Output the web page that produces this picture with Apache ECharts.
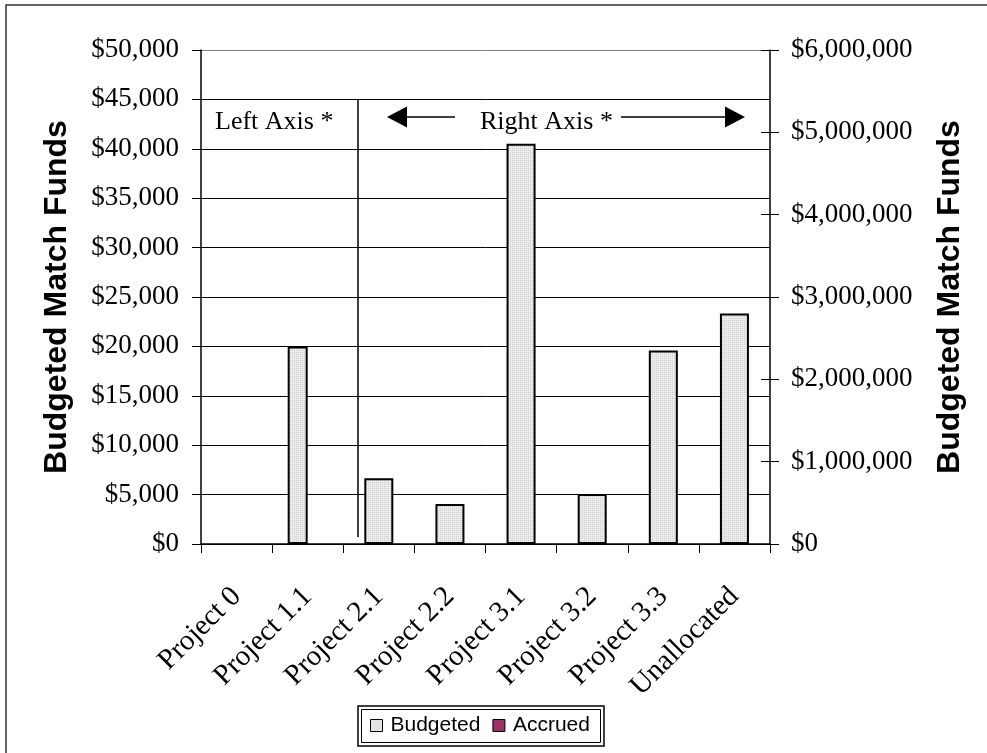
<!DOCTYPE html>
<html>
<head>
<meta charset="utf-8">
<script src="https://cdn.jsdelivr.net/npm/echarts@6/dist/echarts.min.js"></script>
<style>
html,body{margin:0;padding:0;background:#fff;}
#chart{width:987px;height:753px;}
</style>
</head>
<body>
<div id="chart"></div>
<script>
// ---- data ----
var categories = ['Project 0','Project 1.1','Project 2.1','Project 2.2','Project 3.1','Project 3.2','Project 3.3','Unallocated'];
// values on the left axis (Project 0, Project 1.1)
var budgetedLeft = [0, 20000, null, null, null, null, null, null];
var accruedLeft  = [0, 0, null, null, null, null, null, null];
// values on the right axis (Project 2.1 onward)
var budgetedRight = [null, null, 800000, 486000, 4860000, 607000, 2350000, 2800000];
var leftTicks  = [0, 5000, 10000, 15000, 20000, 25000, 30000, 35000, 40000, 45000, 50000];
var rightTicks = [0, 1000000, 2000000, 3000000, 4000000, 5000000, 6000000];
var seriesNames = ['Budgeted', 'Accrued'];
var axisTitle = 'Budgeted Match Funds';

// ---- pattern fill ----
function makePattern(){
  var c = document.createElement('canvas');
  c.width = 2; c.height = 2;
  var g = c.getContext('2d');
  g.fillStyle = '#ececec'; g.fillRect(0,0,2,2);
  g.fillStyle = '#cdcdcd'; g.fillRect(0,0,1,1);
  return {image: c, repeat: 'repeat'};
}
var pattern = makePattern();

var serif = '"Liberation Serif","Times New Roman",serif';
var sans = '"Liberation Sans",Arial,sans-serif';
function money(v){ return '$' + Number(v).toLocaleString('en-US'); }
// zero-height bars draw no outline
function hideZero(arr){
  return arr.map(function(v){ return v === 0 ? {value: 0, itemStyle: {borderWidth: 0}} : v; });
}

var chart = echarts.init(document.getElementById('chart'), null, {renderer:'canvas'});

var gridColors = leftTicks.map(function(v,i){ return i === leftTicks.length-1 ? '#808080' : '#000'; });

var option = {
  animation: false,
  backgroundColor: '#fff',
  grid: {left: 201, right: 217, top: 50, bottom: 209, outerBoundsMode: 'none', containLabel: false},
  legend: {
    data: [
      {name: seriesNames[0], itemStyle: {color: pattern, borderColor: '#000', borderWidth: 1}},
      {name: seriesNames[1], itemStyle: {color: '#993366', borderColor: '#000', borderWidth: 1}}
    ],
    left: 370, top: 715, padding: 0,
    itemWidth: 12, itemHeight: 12, itemGap: 12, icon: 'rect',
    textStyle: {fontFamily: sans, fontSize: 21, color: '#000', padding: [0,0,0,3]},
    selectedMode: false
  },
  xAxis: [
    {
      type: 'category', data: categories, position: 'bottom',
      axisLine: {show: true, lineStyle: {color: '#000', width: 1.5}},
      axisTick: {show: true, length: 9, alignWithLabel: false, lineStyle: {color: '#000', width: 1}},
      axisLabel: {rotate: 45, margin: 48, interval: 0, fontFamily: serif, fontSize: 29, color: '#000'},
      splitLine: {show: false}
    },
    {
      type: 'category', data: categories, show: false
    }
  ],
  yAxis: [
    {
      type: 'value', position: 'left', min: leftTicks[0], max: leftTicks[leftTicks.length-1], interval: leftTicks[1]-leftTicks[0],
      axisLine: {show: true, lineStyle: {color: '#000', width: 1.5}},
      axisTick: {show: true, inside: false, length: 9, lineStyle: {color: '#000'}},
      axisLabel: {formatter: money, margin: 22, fontFamily: serif, fontSize: 27, color: '#000'},
      splitLine: {show: true, lineStyle: {color: gridColors, width: 1}}
    },
    {
      type: 'value', position: 'right', min: rightTicks[0], max: rightTicks[rightTicks.length-1], interval: rightTicks[1]-rightTicks[0],
      axisLine: {show: true, lineStyle: {color: '#000', width: 1.5}},
      axisTick: {show: true, inside: false, length: 9, lineStyle: {color: '#000'}},
      axisLabel: {formatter: money, margin: 21, fontFamily: serif, fontSize: 27, color: '#000'},
      splitLine: {show: false}
    },
    {
      type: 'value', position: 'right', min: rightTicks[0], max: rightTicks[rightTicks.length-1], interval: rightTicks[1]-rightTicks[0],
      axisLine: {show: false},
      axisTick: {show: true, inside: true, length: 9, lineStyle: {color: '#000'}},
      axisLabel: {show: false},
      splitLine: {show: false}
    }
  ],
  series: [
    {
      name: seriesNames[0], type: 'bar', xAxisIndex: 0, yAxisIndex: 0, data: hideZero(budgetedLeft),
      barWidth: 20, barGap: '0%',
      itemStyle: {color: pattern, borderColor: '#000', borderWidth: 2}
    },
    {
      name: seriesNames[1], type: 'bar', xAxisIndex: 0, yAxisIndex: 0, data: hideZero(accruedLeft),
      barWidth: 20, barGap: '0%',
      itemStyle: {color: '#993366', borderColor: '#000', borderWidth: 2}
    },
    {
      name: seriesNames[0], type: 'bar', xAxisIndex: 1, yAxisIndex: 1, data: budgetedRight,
      barWidth: 29,
      itemStyle: {color: pattern, borderColor: '#000', borderWidth: 2}
    }
  ],
  graphic: [
    // outer chart frame
    {type: 'rect', shape: {x: 6, y: 5, width: 990, height: 760}, style: {fill: 'none', stroke: '#333', lineWidth: 1.5}, silent: true},
    // axis titles
    {type: 'text', x: 57, y: 297, rotation: Math.PI/2,
      style: {text: axisTitle, fontFamily: sans, fontWeight: 'bold', fontSize: 32, fill: '#000', align: 'center', verticalAlign: 'middle'}},
    {type: 'text', x: 950, y: 297, rotation: Math.PI/2,
      style: {text: axisTitle, fontFamily: sans, fontWeight: 'bold', fontSize: 32, fill: '#000', align: 'center', verticalAlign: 'middle'}},
    // annotations
    {type: 'text', x: 215, y: 122, style: {text: 'Left Axis *', fontFamily: serif, fontSize: 26, fill: '#000', align: 'left', verticalAlign: 'middle'}},
    {type: 'text', x: 480, y: 122, style: {text: 'Right Axis *', fontFamily: serif, fontSize: 26, fill: '#000', align: 'left', verticalAlign: 'middle'}},
    {type: 'line', shape: {x1: 358, y1: 99, x2: 358, y2: 537}, style: {stroke: '#000', lineWidth: 1.5}},
    {type: 'line', shape: {x1: 400, y1: 117, x2: 455, y2: 117}, style: {stroke: '#000', lineWidth: 1.5}},
    {type: 'polygon', shape: {points: [[387,117],[407,106.5],[407,127.5]]}, style: {fill: '#000'}},
    {type: 'line', shape: {x1: 621, y1: 117, x2: 730, y2: 117}, style: {stroke: '#000', lineWidth: 1.5}},
    {type: 'polygon', shape: {points: [[745,117],[725,106.5],[725,127.5]]}, style: {fill: '#000'}},
    // legend double border
    {type: 'rect', shape: {x: 358, y: 706, width: 246, height: 40}, style: {fill: 'none', stroke: '#000', lineWidth: 1.5}, silent: true},
    {type: 'rect', shape: {x: 361.5, y: 709.5, width: 239, height: 33}, style: {fill: 'none', stroke: '#000', lineWidth: 1}, silent: true}
  ]
};
chart.setOption(option);
</script>
</body>
</html>
